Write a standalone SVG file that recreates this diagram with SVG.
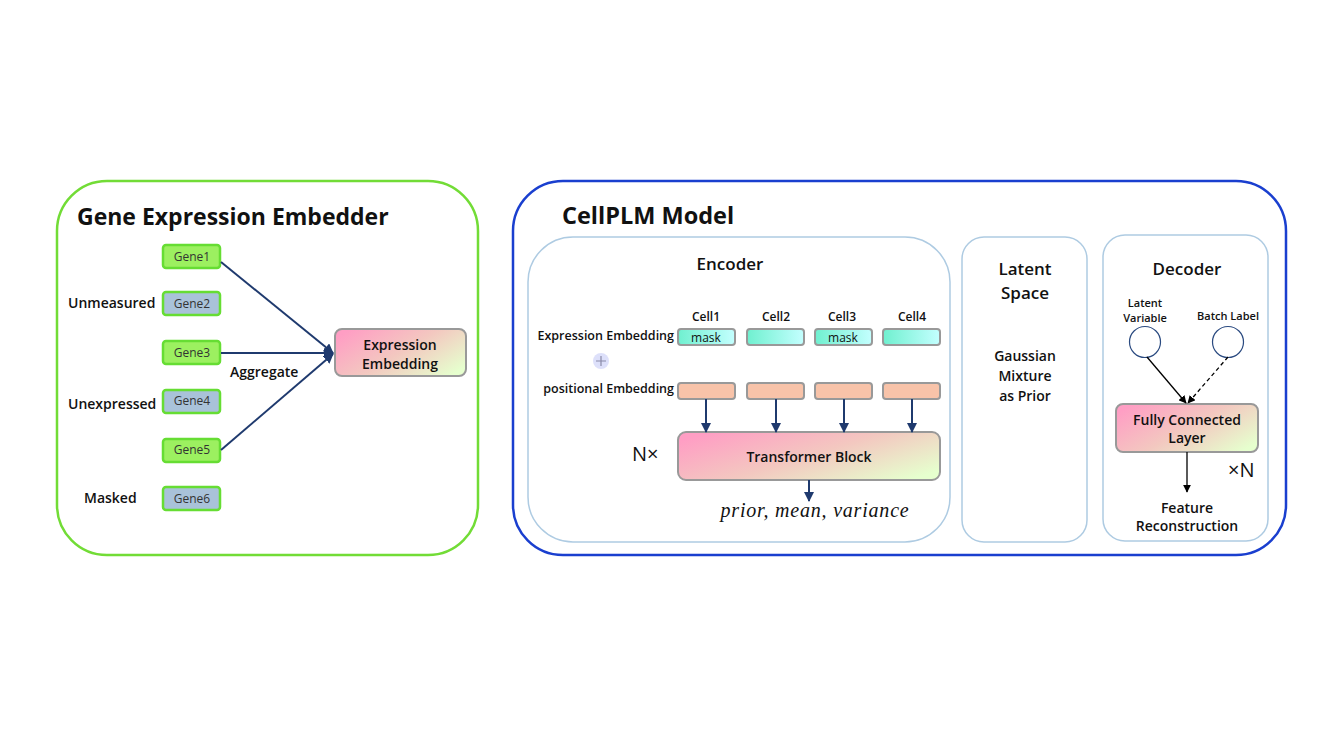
<svg xmlns="http://www.w3.org/2000/svg" width="1334" height="750" viewBox="0 0 1334 750">
<defs>
<linearGradient id="pg" x1="0" y1="0.2" x2="1" y2="0.8">
<stop offset="0" stop-color="#ff9ec4"/><stop offset="0.5" stop-color="#f3c8c0"/><stop offset="1" stop-color="#e6ffce"/>
</linearGradient>
<linearGradient id="tq" x1="0" y1="0" x2="1" y2="0">
<stop offset="0" stop-color="#6ff0cf"/><stop offset="1" stop-color="#c4ffff"/>
</linearGradient>
<marker id="ah" viewBox="0 0 10 10" refX="9" refY="5" markerWidth="5" markerHeight="5" orient="auto"><path d="M0,0 L10,5 L0,10 z" fill="#1f3a6e"/></marker>
<marker id="ak" viewBox="0 0 10 10" refX="9" refY="5" markerWidth="6" markerHeight="6" orient="auto"><path d="M0,0 L10,5 L0,10 z" fill="#000"/></marker>
<style>
text{font-family:"Open Sans","Noto Sans","Liberation Sans",sans-serif;fill:#111;font-weight:600}
.title{font-weight:700}
.reg{font-weight:400}
.gene{stroke:#66dd33;stroke-width:2.5}
.g1{fill:#9cf060}
.g2{fill:#a9c2d9}
.gt{font-size:12px;fill:#333;text-anchor:middle;font-weight:400}
.lab{font-size:14px}
.box{stroke:#999;stroke-width:2}
.emb{fill:url(#tq);stroke:#999;stroke-width:2}
.pos{fill:#f8c3a9;stroke:#999;stroke-width:2}
.sub{fill:none;stroke:#aecbe2;stroke-width:1.5}
.c{text-anchor:middle}
.nv{stroke:#1f3a6e;stroke-width:2;fill:none}
.math{font-family:"Liberation Serif","DejaVu Serif",serif;font-style:italic;font-weight:400}
</style>
</defs>
<rect width="1334" height="750" fill="#fff"/>

<g id="gene-expression-embedder">
<rect x="57" y="181" width="421" height="374" rx="50" fill="none" stroke="#72dc36" stroke-width="2.5"/>
<text x="77" y="225" font-size="23" class="title">Gene Expression Embedder</text>
</g>
<g id="gene1"><rect x="163" y="245" width="57" height="23" rx="3" class="gene g1"/><text x="192" y="261" class="gt">Gene1</text></g>
<g id="gene2"><rect x="163" y="292" width="57" height="23" rx="3" class="gene g2"/><text x="192" y="308" class="gt">Gene2</text></g>
<g id="gene3"><rect x="163" y="341" width="57" height="23" rx="3" class="gene g1"/><text x="192" y="357" class="gt">Gene3</text></g>
<g id="gene4"><rect x="163" y="390" width="57" height="23" rx="3" class="gene g2"/><text x="192" y="405" class="gt">Gene4</text></g>
<g id="gene5"><rect x="163" y="439" width="57" height="23" rx="3" class="gene g1"/><text x="192" y="454" class="gt">Gene5</text></g>
<g id="gene6"><rect x="163" y="487" width="57" height="23" rx="3" class="gene g2"/><text x="192" y="503" class="gt">Gene6</text></g>
<g id="gene-labels">
<text x="68" y="308" class="lab">Unmeasured</text>
<text x="68" y="409" class="lab">Unexpressed</text>
<text x="84" y="503" class="lab">Masked</text>
<text x="230" y="377" class="lab">Aggregate</text>
</g>
<g id="expression-embedding">
<rect x="335" y="329" width="131" height="47" rx="7" class="box" fill="url(#pg)"/>
<text x="400" y="350" font-size="14" class="c">Expression</text>
<text x="400" y="369" font-size="14" class="c">Embedding</text>
</g>

<g id="cellplm-model">
<rect x="513" y="181" width="773" height="374" rx="50" fill="none" stroke="#1a3fcf" stroke-width="2.5"/>
<text x="562" y="224" font-size="23.5" class="title">CellPLM Model</text>
</g>
<g id="encoder">
<rect x="528" y="237" width="422" height="305" rx="45" class="sub"/>
<text x="730" y="270" font-size="17" class="c">Encoder</text>
<text x="706" y="321" font-size="12" class="c">Cell1</text>
<text x="776" y="321" font-size="12" class="c">Cell2</text>
<text x="842" y="321" font-size="12" class="c">Cell3</text>
<text x="912" y="321" font-size="12" class="c">Cell4</text>
<text x="674" y="340" font-size="12.5" text-anchor="end">Expression Embedding</text>
<text x="674" y="393" font-size="12.5" text-anchor="end">positional Embedding</text>
<circle cx="601" cy="361" r="8" fill="#dde0fa"/>
<path d="M596,361 H606 M601,356 V366" stroke="#8a8aa8" stroke-width="1.2"/>
</g>
<g id="expr-emb-cells">
<rect x="678" y="329" width="57" height="16" rx="3" class="emb"/><text x="706" y="342" font-size="12" class="c reg" fill="#333">mask</text>
<rect x="747" y="329" width="57" height="16" rx="3" class="emb"/>
<rect x="815" y="329" width="57" height="16" rx="3" class="emb"/><text x="843" y="342" font-size="12" class="c reg" fill="#333">mask</text>
<rect x="883" y="329" width="57" height="16" rx="3" class="emb"/>
</g>
<g id="pos-emb-cells">
<rect x="678" y="383" width="57" height="16" rx="3" class="pos"/>
<rect x="747" y="383" width="57" height="16" rx="3" class="pos"/>
<rect x="815" y="383" width="57" height="16" rx="3" class="pos"/>
<rect x="883" y="383" width="57" height="16" rx="3" class="pos"/>
</g>
<g id="transformer-block">
<rect x="678" y="432" width="262" height="48" rx="8" class="box" fill="url(#pg)"/>
<text x="809" y="462" font-size="14" class="c">Transformer Block</text>
<text x="632" y="461" font-size="20" class="reg">N×</text>
<text x="815" y="517" font-size="20" class="c math" letter-spacing="0.8">prior, mean, variance</text>
</g>
<g id="latent-space">
<rect x="962" y="237" width="125" height="305" rx="22" class="sub"/>
<text x="1025" y="275" font-size="17" class="c">Latent</text>
<text x="1025" y="299" font-size="17" class="c">Space</text>
<text x="1025" y="361" font-size="14" class="c">Gaussian</text>
<text x="1025" y="381" font-size="14" class="c">Mixture</text>
<text x="1025" y="401" font-size="14" class="c">as Prior</text>
</g>
<g id="decoder">
<rect x="1103" y="235" width="165" height="306" rx="22" class="sub"/>
<text x="1187" y="275" font-size="17" class="c">Decoder</text>
<text x="1145" y="307" font-size="11" class="c">Latent</text>
<text x="1145" y="322" font-size="11" class="c">Variable</text>
<text x="1228" y="320" font-size="11" class="c">Batch Label</text>
<circle cx="1145" cy="342" r="15.5" fill="#fff" stroke="#2a4a80" stroke-width="1.2"/>
<circle cx="1228" cy="342" r="15.5" fill="#fff" stroke="#2a4a80" stroke-width="1.2"/>
</g>
<g id="fully-connected-layer">
<rect x="1116" y="404" width="142" height="48" rx="7" class="box" fill="url(#pg)"/>
<text x="1187" y="425" font-size="14" class="c">Fully Connected</text>
<text x="1187" y="443" font-size="14" class="c">Layer</text>
<text x="1228" y="477" font-size="20" class="reg">×N</text>
<text x="1187" y="513" font-size="14" class="c">Feature</text>
<text x="1187" y="531" font-size="14" class="c">Reconstruction</text>
</g>

<g id="connectors">
<path d="M221,262 L333,353" class="nv" marker-end="url(#ah)"/>
<path d="M221,353 L333,353" class="nv" marker-end="url(#ah)"/>
<path d="M221,450 L333,354" class="nv" marker-end="url(#ah)"/>
<path d="M706,399 V432" class="nv" marker-end="url(#ah)"/>
<path d="M776,399 V432" class="nv" marker-end="url(#ah)"/>
<path d="M844,399 V432" class="nv" marker-end="url(#ah)"/>
<path d="M912,399 V432" class="nv" marker-end="url(#ah)"/>
<path d="M809,480 V501" class="nv" marker-end="url(#ah)"/>
<path d="M1147,357 L1186,403" stroke="#000" stroke-width="1.3" fill="none" marker-end="url(#ak)"/>
<path d="M1228,357 L1188,403" stroke="#000" stroke-width="1.3" fill="none" stroke-dasharray="4,3" marker-end="url(#ak)"/>
<path d="M1187,452 V492" stroke="#000" stroke-width="1.3" fill="none" marker-end="url(#ak)"/>
</g>
</svg>
